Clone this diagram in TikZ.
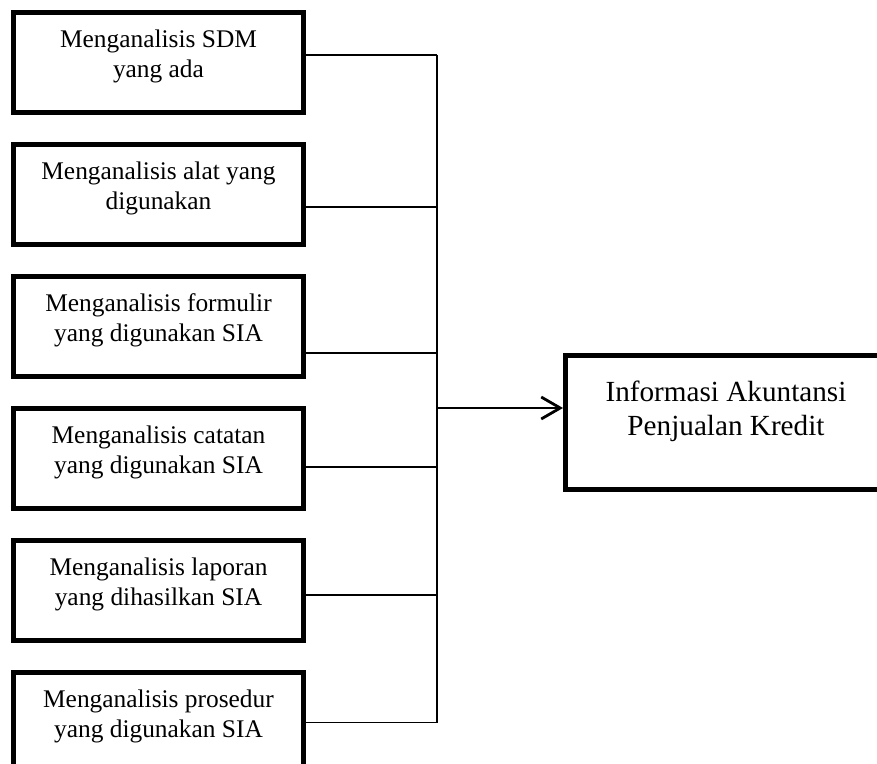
\documentclass[tikz,border=0pt]{standalone}
\usepackage{fontspec}
\setmainfont{Liberation Serif}
\usetikzlibrary{arrows.meta,positioning}
\tikzset{
    %Define standard arrow tip
    >={Straight Barb[length=9.5pt,width=11pt]},
    kotak/.style={
      rectangle,
      draw=black, line width=2.5pt,
      minimum width=145pt,
      minimum height=50pt,
      align=center,
      text depth=8.5pt,
      font={\fontsize{12.7}{15}\selectfont}},
    hasil/.style={
      rectangle,
      draw=black, line width=2.5pt,
      minimum width=160.5pt,
      minimum height=67pt,
      align=center,
      text depth=14pt,
      font={\fontsize{14.6}{17}\selectfont}},
    garis/.style={line width=0.9pt},
}

\begin{document}
\begin{tikzpicture}[x=0.5pt,y=-0.5pt,node distance=13.5pt]
    \useasboundingbox (0,0) rectangle (877,764);
    \clip (0,0) rectangle (877,764);
    \node (sdm) [kotak] at (158.5,62.5)
          {Menganalisis SDM\\yang ada};
    \node (alat) [kotak] [below=of sdm]
          {Menganalisis alat yang\\digunakan};
    \node (formulir) [kotak] [below=of alat]
          {Menganalisis formulir\\yang digunakan SIA};
    \node (catatan) [kotak] [below=of formulir]
          {Menganalisis catatan\\yang digunakan SIA};
    \node (laporan) [kotak] [below=of catatan]
          {Menganalisis laporan\\yang dihasilkan SIA};
    \node (prosedur) [kotak] [below=of laporan]
          {Menganalisis prosedur\\yang digunakan SIA};
    \node (info) [hasil] at (726,422.5)
          {Informasi Akuntansi\\Penjualan Kredit};
    % cabang ke garis tegak
    \draw [garis] ([yshift=3.75pt]sdm.east) -- ++(65.5pt,0) coordinate (busTop);
    \draw [garis] ([yshift=-6.25pt]alat.east) -- ++(65.5pt,0);
    \draw [garis] ([yshift=-13.25pt]formulir.east) -- ++(65.5pt,0);
    \draw [garis] ([yshift=-4.25pt]catatan.east) -- ++(65.5pt,0);
    \draw [garis] ([yshift=-2.25pt]laporan.east) -- ++(65.5pt,0);
    \draw [garis] (prosedur.east) -- ++(65.5pt,0) coordinate (busBot);
    \draw [garis] (busTop) -- (busBot);
    \coordinate (arrowEnd) at ([yshift=7.25pt]info.west);
    \draw [->, line width=1.4pt] (busTop |- arrowEnd) -- (arrowEnd);
\end{tikzpicture}
\end{document}
